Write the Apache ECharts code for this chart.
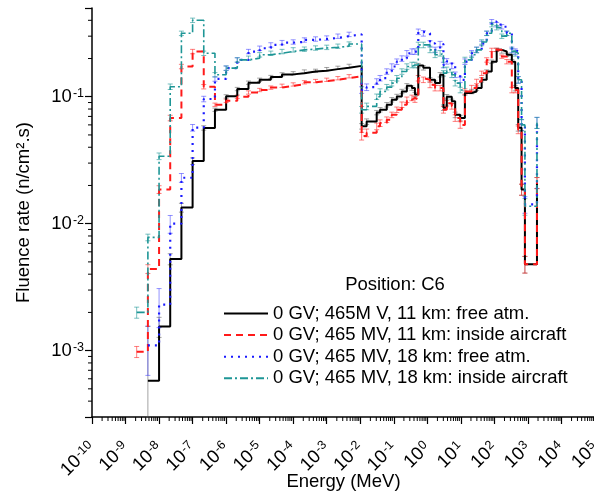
<!DOCTYPE html>
<html><head><meta charset="utf-8">
<script src="https://cdn.jsdelivr.net/npm/echarts@6/dist/echarts.min.js"></script>
<style>html,body{margin:0;padding:0;background:#fff}#c{width:594px;height:494px}</style>
</head><body><div id="c"></div>
<script>
// Energy points (MeV) - lower bin edges
const energies = [2.15e-9, 4.64e-9, 1e-8, 2.15e-8, 4.64e-8, 1e-7, 2.15e-7, 4.64e-7, 1e-6, 2.15e-6,
  4.64e-6, 1e-5, 2.15e-5, 4.64e-5, 1e-4, 2.15e-4, 4.64e-4, 1e-3, 2.15e-3, 4.64e-3,
  0.0110, 0.0155, 0.0309, 0.0389, 0.0617, 0.0871, 0.123, 0.174, 0.245, 0.347,
  0.427, 0.537, 0.759, 1.20, 1.70, 2.40, 3.02, 3.80, 5.37, 6.76,
  9.55, 13.2, 20.9, 29.5, 41.7, 58.9, 83.2, 117, 166, 234,
  331, 417, 513, 646, 813, 1860];

const seriesNames = [
  '0 GV; 465M V, 11 km: free atm.',
  '0 GV; 465 MV, 11 km: inside aircraft',
  '0 GV; 465 MV, 18 km: free atm.',
  '0 GV; 465 MV, 18 km: inside aircraft'
];

const free11 = [null, 5.8e-4, 1.55e-3, 5.27e-3, 1.34e-2, 3.11e-2, 0.0568, 0.079, 0.1007, 0.115,
  0.129, 0.136, 0.143, 0.150, 0.153, 0.158, 0.160, 0.165, 0.169, 0.175,
  0.0585, 0.0637, 0.075, 0.079, 0.0865, 0.0947, 0.1005, 0.110, 0.122, 0.117,
  0.104, 0.176, 0.169, 0.136, 0.128, 0.149, 0.082, 0.100, 0.092, 0.072,
  0.068, 0.107, 0.110, 0.117, 0.136, 0.158, 0.189, 0.234, 0.227, 0.214,
  0.189, 0.117, 0.057, 0.0186, 0.0048, 0.021];
const inside11 = [9.8e-4, 4.4e-3, 0.0186, 0.068, 0.173, 0.227, 0.12, 0.0865, 0.093, 0.10,
  0.108, 0.113, 0.118, 0.122, 0.125, 0.130, 0.133, 0.136, 0.140, 0.145,
  0.049, 0.052, 0.0585, 0.062, 0.066, 0.072, 0.079, 0.0866, 0.0947, 0.098,
  0.095, 0.14, 0.136, 0.124, 0.117, 0.117, 0.079, 0.089, 0.084, 0.068,
  0.060, 0.11, 0.117, 0.132, 0.153, 0.195, 0.234, 0.234, 0.207, 0.189,
  0.113, 0.113, 0.055, 0.0186, 0.0048, 0.021];
const free18 = [null, 1.1e-3, 2.3e-3, 0.010, 0.023, 0.057, 0.096, 0.138, 0.168, 0.195,
  0.227, 0.241, 0.256, 0.267, 0.27, 0.28, 0.285, 0.29, 0.30, 0.31,
  0.113, 0.119, 0.132, 0.14, 0.158, 0.173, 0.189, 0.20, 0.22, 0.227,
  0.227, 0.325, 0.316, 0.263, 0.234, 0.26, 0.178, 0.19, 0.175, 0.149,
  0.136, 0.189, 0.22, 0.234, 0.263, 0.316, 0.39, 0.37, 0.356, 0.316,
  0.234, 0.227, 0.136, 0.06, 0.0142, 0.0625];
const inside18 = [2.0e-3, 7.8e-3, 0.034, 0.12, 0.316, 0.40, 0.22, 0.149, 0.168, 0.195,
  0.201, 0.214, 0.22, 0.227, 0.234, 0.237, 0.242, 0.245, 0.25, 0.26,
  0.079, 0.084, 0.10, 0.11, 0.119, 0.128, 0.14, 0.158, 0.173, 0.178,
  0.178, 0.256, 0.256, 0.234, 0.214, 0.22, 0.153, 0.163, 0.149, 0.128,
  0.113, 0.195, 0.214, 0.234, 0.27, 0.316, 0.37, 0.35, 0.30, 0.316,
  0.227, 0.22, 0.136, 0.06, 0.0137, 0.0625];

// relative uncertainties (error bars)
const errFree11 = [null, 1.67, 0.18, 0.10, 0.08, 0.06, 0.04, 0.03, 0.03, 0.03,
  0.03, 0.03, 0.03, 0.03, 0.03, 0.03, 0.03, 0.03, 0.03, 0.03,
  0.05, 0.05, 0.04, 0.04, 0.04, 0.04, 0.04, 0.04, 0.04, 0.04,
  0.04, 0.04, 0.04, 0.04, 0.04, 0.04, 0.05, 0.04, 0.04, 0.05,
  0.05, 0.04, 0.04, 0.04, 0.04, 0.03, 0.03, 0.03, 0.03, 0.03,
  0.04, 0.05, 0.06, 0.10, 0.15, 0.10];
const errInside11 = [0.10, 0.08, 0.07, 0.05, 0.04, 0.04, 0.04, 0.03, 0.03, 0.03,
  0.03, 0.03, 0.03, 0.03, 0.03, 0.03, 0.03, 0.03, 0.03, 0.03,
  0.07, 0.07, 0.06, 0.06, 0.05, 0.05, 0.05, 0.05, 0.05, 0.05,
  0.05, 0.05, 0.05, 0.05, 0.05, 0.05, 0.06, 0.05, 0.05, 0.06,
  0.06, 0.05, 0.05, 0.04, 0.04, 0.04, 0.03, 0.03, 0.03, 0.04,
  0.05, 0.05, 0.07, 0.10, 0.15, 0.10];
const errFree18 = [null, 0.42, 0.34, 0.16, 0.08, 0.06, 0.05, 0.04, 0.04, 0.04,
  0.04, 0.04, 0.04, 0.04, 0.04, 0.04, 0.04, 0.04, 0.04, 0.04,
  0.06, 0.06, 0.05, 0.05, 0.05, 0.05, 0.05, 0.05, 0.05, 0.05,
  0.05, 0.05, 0.05, 0.05, 0.05, 0.05, 0.05, 0.05, 0.05, 0.05,
  0.05, 0.05, 0.05, 0.05, 0.04, 0.04, 0.04, 0.04, 0.04, 0.04,
  0.05, 0.05, 0.06, 0.10, 0.15, 0.10];
const errInside18 = [0.10, 0.06, 0.06, 0.05, 0.04, 0.04, 0.04, 0.04, 0.04, 0.04,
  0.04, 0.04, 0.04, 0.04, 0.04, 0.04, 0.04, 0.04, 0.04, 0.04,
  0.06, 0.06, 0.05, 0.05, 0.05, 0.05, 0.05, 0.05, 0.05, 0.05,
  0.05, 0.05, 0.05, 0.05, 0.05, 0.05, 0.05, 0.05, 0.05, 0.05,
  0.05, 0.05, 0.05, 0.05, 0.04, 0.04, 0.04, 0.04, 0.04, 0.04,
  0.05, 0.05, 0.06, 0.10, 0.15, 0.10];

const xExp = [-10, 5];
const yRange = [3e-4, 0.5];

const FONT = 'Arial, "Liberation Sans", sans-serif';
const lg = Math.log10;
const yMinL = lg(yRange[0]), yMaxL = lg(yRange[1]);

const styles = [
  {color: '#000000', width: 2, type: 'solid', err: 'rgba(90,90,90,0.55)'},
  {color: '#ff1a1a', width: 2, type: [7, 5], err: 'rgba(255,40,40,0.6)'},
  {color: '#1a1aff', width: 2.2, type: [2, 5], err: 'rgba(60,60,255,0.55)'},
  {color: '#1e9696', width: 1.6, type: [8, 3, 2, 3], err: 'rgba(30,150,150,0.6)'}
];
const allVals = [free11, inside11, free18, inside18];
const allErr = [errFree11, errInside11, errFree18, errInside18];

function lineData(vals) {
  const out = [];
  energies.forEach((e, i) => { if (vals[i] != null) out.push([lg(e), lg(vals[i])]); });
  return out;
}
function errData(vals, rel) {
  const out = [];
  energies.forEach((e, i) => {
    if (vals[i] == null || rel[i] == null) return;
    const d = vals[i] * rel[i];
    const lo = vals[i] - d;
    out.push([lg(e), lo > yRange[0] ? lg(lo) : yMinL, lg(vals[i] + d)]);
  });
  return out;
}
function errRender(color) {
  return function (params, api) {
    const x = api.value(0);
    const pLo = api.coord([x, api.value(1)]);
    const pHi = api.coord([x, api.value(2)]);
    const hw = 2.5;
    const st = {stroke: color, lineWidth: 1};
    return {type: 'group', children: [
      {type: 'line', shape: {x1: pLo[0], y1: pLo[1], x2: pHi[0], y2: pHi[1]}, style: st},
      {type: 'line', shape: {x1: pHi[0] - hw, y1: pHi[1], x2: pHi[0] + hw, y2: pHi[1]}, style: st},
      {type: 'line', shape: {x1: pLo[0] - hw, y1: pLo[1], x2: pLo[0] + hw, y2: pLo[1]}, style: st}
    ]};
  };
}

// minor tick positions (axis decoration)
const xMinor = [], yMinor = [];
for (let n = xExp[0]; n < xExp[1]; n++) for (let k = 2; k <= 9; k++) xMinor.push([n + lg(k), yMinL]);
for (let n = Math.floor(yMinL); n < Math.ceil(yMaxL); n++) for (let k = 2; k <= 9; k++) {
  const v = n + lg(k); if (v > yMinL && v < yMaxL) yMinor.push([xExp[0], v]);
}

function powLabel(v) {
  if (Math.abs(v - Math.round(v)) > 1e-6) return '';
  return '{b|10}{s|' + Math.round(v) + '}';
}
const richLab = {
  b: {fontSize: 18.5, fontFamily: FONT, color: '#000', lineHeight: 19, verticalAlign: 'bottom'},
  s: {fontSize: 12.5, fontFamily: FONT, color: '#000', lineHeight: 12, verticalAlign: 'top', padding: [0, 0, 0, 1]}
};

const series = [];
allVals.forEach((vals, i) => {
  series.push({
    name: seriesNames[i], type: 'line', step: 'end', symbol: 'none',
    data: lineData(vals), z: 3 + i,
    lineStyle: {color: styles[i].color, width: styles[i].width, type: styles[i].type},
    itemStyle: {color: styles[i].color}
  });
  series.push({
    type: 'custom', silent: true, clip: false, z: 2,
    renderItem: errRender(styles[i].err),
    encode: {x: 0, y: [1, 2]},
    data: errData(vals, allErr[i])
  });
});
series.push({
  type: 'custom', silent: true, clip: false, z: 1,
  renderItem: function (p, api) {
    const pt = api.coord([api.value(0), api.value(1)]);
    return {type: 'line', shape: {x1: pt[0], y1: pt[1], x2: pt[0], y2: pt[1] + 4}, style: {stroke: '#000', lineWidth: 1}};
  },
  data: xMinor
});
series.push({
  type: 'custom', silent: true, clip: false, z: 1,
  renderItem: function (p, api) {
    const pt = api.coord([api.value(0), api.value(1)]);
    return {type: 'line', shape: {x1: pt[0] - 4, y1: pt[1], x2: pt[0], y2: pt[1]}, style: {stroke: '#000', lineWidth: 1}};
  },
  data: yMinor
});

const chart = echarts.init(document.getElementById('c'), null, {renderer: 'canvas'});
chart.setOption({
  animation: false,
  backgroundColor: '#fff',
  textStyle: {fontFamily: FONT},
  grid: {left: 92, top: 8, width: 503, height: 409, containLabel: false, outerBoundsMode: 'none'},
  xAxis: {
    type: 'value', min: xExp[0], max: xExp[1], interval: 1,
    name: 'Energy (MeV)', nameLocation: 'middle', nameGap: 55, nameMoveOverlap: false,
    nameTextStyle: {fontSize: 18.5, color: '#000', fontFamily: FONT},
    axisLine: {onZero: false, lineStyle: {color: '#000', width: 1.5}},
    axisTick: {inside: false, length: 7, lineStyle: {color: '#000', width: 1.2}},
    axisLabel: {rotate: 45, margin: 28, interval: 0, formatter: powLabel, rich: richLab, hideOverlap: false},
    splitLine: {show: false}
  },
  yAxis: {
    type: 'value', min: yMinL, max: yMaxL, splitNumber: 3,
    name: 'Fluence rate (n/cm\u00B2.s)', nameLocation: 'middle', nameGap: 59, nameRotate: 90, nameMoveOverlap: false,
    nameTextStyle: {fontSize: 18.5, color: '#000', fontFamily: FONT},
    axisLine: {onZero: false, lineStyle: {color: '#000', width: 1.5}},
    axisTick: {inside: false, length: 7, lineStyle: {color: '#000', width: 1.2}},
    axisLabel: {margin: 8, formatter: powLabel, rich: richLab},
    splitLine: {show: false}
  },
  legend: {
    orient: 'vertical', left: 223, top: 304, padding: 0, itemWidth: 44, itemHeight: 14, itemGap: 2.6,
    data: seriesNames,
    itemStyle: {opacity: 0},
    textStyle: {fontSize: 18.5, color: '#000', fontFamily: FONT, lineHeight: 18}
  },
  graphic: [{
    type: 'text', x: 395, y: 285,
    style: {text: 'Position: C6', font: '18.5px ' + FONT, fill: '#000', align: 'center', verticalAlign: 'middle'}
  }],
  series: series
});
</script>
</body></html>
